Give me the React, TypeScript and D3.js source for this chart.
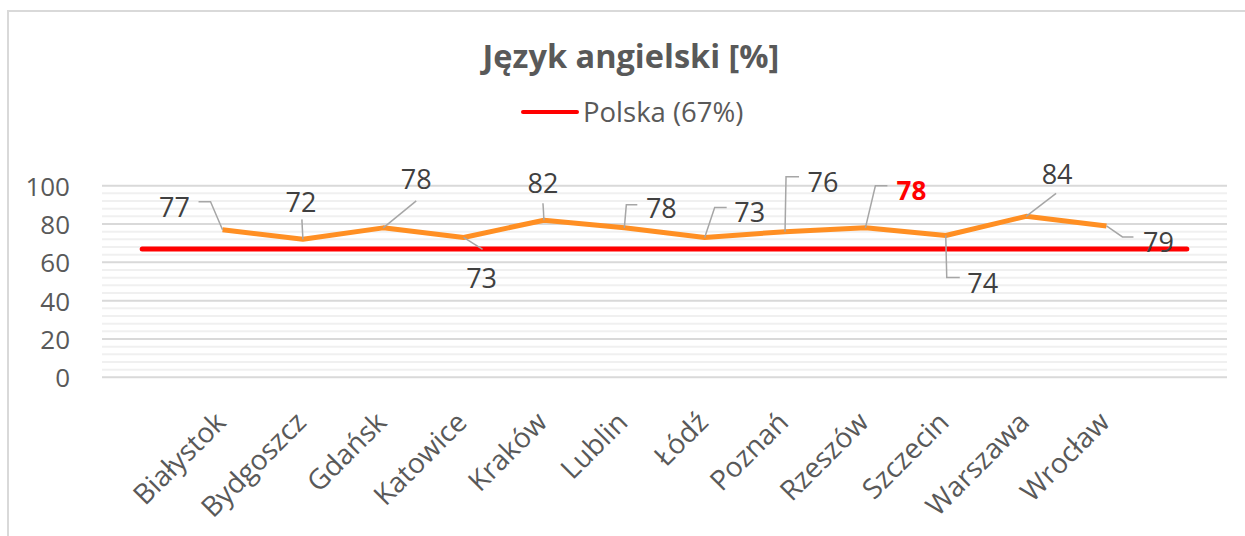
import React from "react";
import * as d3 from "d3";

const W = 1245;
const H = 536;
const margin = { top: 185.7, right: 18, bottom: 158.7, left: 102 };

const cities = [
  "Białystok",
  "Bydgoszcz",
  "Gdańsk",
  "Katowice",
  "Kraków",
  "Lublin",
  "Łódź",
  "Poznań",
  "Rzeszów",
  "Szczecin",
  "Warszawa",
  "Wrocław",
];
const english = [77, 72, 78, 73, 82, 78, 73, 76, 78, 74, 84, 79];
const polskaValue = 67;
const yTicks = [0, 20, 40, 60, 80, 100];
const highlight = "Rzeszów";

// label placement relative to point: leader path + label centre
const labelLayout = [
  { leader: [[0, 0], [-12, -28], [-24, -28]], dx: -48, dy: -23 },
  { leader: [[0, 0], [-1, -20]], dx: -2, dy: -37 },
  { leader: [[0, 0], [33, -27]], dx: 33, dy: -49 },
  { leader: [[0, 0], [19, 12]], dx: 18, dy: 41 },
  { leader: [[0, 0], [-1, -17]], dx: -1, dy: -37 },
  { leader: [[0, 0], [2, -23], [13, -23]], dx: 37, dy: -20 },
  { leader: [[0, 0], [10, -30], [22, -30]], dx: 45, dy: -25 },
  { leader: [[0, 0], [1, -55], [14, -55]], dx: 38, dy: -50 },
  { leader: [[0, 0], [10, -42], [22, -42]], dx: 46, dy: -38 },
  { leader: [[0, 0], [1, 42], [14, 42]], dx: 37, dy: 47 },
  { leader: [[0, 0], [30, -23]], dx: 31, dy: -42 },
  { leader: [[0, 0], [16, 11], [27, 11]], dx: 52, dy: 16 },
];

const FONT = "'Open Sans', 'Noto Sans', sans-serif";

export default function App() {
  // 14 slots: an empty one on each side, as in the source chart
  const slots = ["_start", ...cities, "_end"];
  const x = d3
    .scalePoint<string>()
    .domain(slots)
    .range([margin.left, W - margin.right])
    .padding(0.5);
  const y = d3
    .scaleLinear()
    .domain([0, 100])
    .range([H - margin.bottom, margin.top]);

  const minorTicks = d3.range(0, 101, 4).filter((v) => v % 20 !== 0);

  const line = d3
    .line<number>()
    .x((d, i) => x(cities[i]) as number)
    .y((d) => y(d));

  const polskaLine = d3
    .line<string>()
    .x((d) => x(d) as number)
    .y(() => y(polskaValue));

  const leaderLine = d3.line<number[]>().x((d) => d[0]).y((d) => d[1]);

  return (
    <svg
      width={W}
      height={H}
      style={{ position: "absolute", left: 0, top: 0, background: "#fff" }}
      fontFamily={FONT}
    >
      <rect x={8} y={11} width={W + 20} height={H + 20} fill="#fff" stroke="#d9d9d9" strokeWidth={2} />

      <text x={631} y={68} textAnchor="middle" fontSize={32.5} fontWeight="bold" fill="#595959">
        Język angielski [%]
      </text>

      <line x1={523} x2={577} y1={112} y2={112} stroke="#ff0000" strokeWidth={4} strokeLinecap="round" />
      <text x={583} y={122} fontSize={27.5} fill="#595959">
        Polska (67%)
      </text>

      <g>
        {minorTicks.map((t) => (
          <line key={"m" + t} x1={margin.left} x2={W - margin.right} y1={y(t)} y2={y(t)} stroke="#f0f0f0" strokeWidth={2} />
        ))}
        {yTicks.map((t) => (
          <line key={"M" + t} x1={margin.left} x2={W - margin.right} y1={y(t)} y2={y(t)} stroke="#d9d9d9" strokeWidth={2} />
        ))}
      </g>

      <g>
        {yTicks.map((t) => (
          <text key={t} x={70} y={y(t) + 10} textAnchor="end" fontSize={26} fill="#595959">
            {t}
          </text>
        ))}
      </g>

      <path d={polskaLine(slots) || ""} fill="none" stroke="#ff0000" strokeWidth={5} strokeLinecap="round" />
      <path d={line(english) || ""} fill="none" stroke="#ff8f23" strokeWidth={5} strokeLinejoin="round" />

      <g>
        {english.map((v, i) => {
          const px = x(cities[i]) as number;
          const py = y(v);
          const lay = labelLayout[i];
          const pts = lay.leader.map((p) => [px + p[0], py + p[1]]);
          const hl = cities[i] === highlight;
          return (
            <g key={cities[i]}>
              <path d={leaderLine(pts) || ""} fill="none" stroke="#a6a6a6" strokeWidth={1.5} />
              <text
                x={px + lay.dx}
                y={py + lay.dy + 10}
                textAnchor="middle"
                fontSize={hl ? 26 : 27}
                fontWeight={hl ? "bold" : "normal"}
                fill={hl ? "#ff0000" : "#404040"}
              >
                {v}
              </text>
            </g>
          );
        })}
      </g>

      <g>
        {cities.map((c) => {
          const px = (x(c) as number) + 5;
          const py = 424;
          return (
            <text
              key={c}
              x={px}
              y={py}
              textAnchor="end"
              fontSize={28}
              fill="#595959"
              transform={`rotate(-45 ${px} ${py})`}
            >
              {c}
            </text>
          );
        })}
      </g>
    </svg>
  );
}
